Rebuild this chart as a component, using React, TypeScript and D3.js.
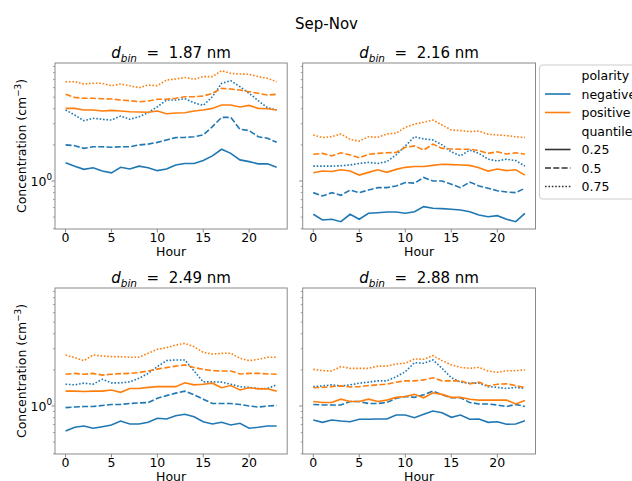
import React from 'react';
import * as d3 from 'd3';

const HOURS = [0, 1, 2, 3, 4, 5, 6, 7, 8, 9, 10, 11, 12, 13, 14, 15, 16, 17, 18, 19, 20, 21, 22, 23];
const X_TICKS = [0, 5, 10, 15, 20];
const Y_MAJOR = [1];
const Y_MINOR = [0.4, 0.5, 0.6, 0.7, 0.8, 0.9, 2, 3, 4, 5, 6, 7, 8, 9];
const SIZES = ['1.87', '2.16', '2.49', '2.88'];
const POLARITIES = ['negative', 'positive'];
const QUANTILES = ['0.25', '0.5', '0.75'];

// panel 1: 1.87 nm
const NEG25_A = [1.42, 1.33, 1.25, 1.29, 1.21, 1.17, 1.30, 1.26, 1.33, 1.29, 1.22, 1.26, 1.36, 1.40, 1.40, 1.48, 1.62, 1.84, 1.70, 1.50, 1.45, 1.39, 1.39, 1.30];
const NEG50_A = [2.00, 1.97, 1.87, 1.93, 1.93, 1.91, 1.93, 1.93, 2.00, 2.03, 2.10, 2.20, 2.30, 2.31, 2.34, 2.42, 2.84, 3.39, 3.39, 2.70, 2.63, 2.34, 2.27, 2.10];
const NEG75_A = [3.91, 3.55, 3.18, 3.33, 3.27, 3.22, 3.48, 3.27, 3.43, 3.71, 4.16, 4.73, 4.73, 4.85, 4.49, 4.27, 5.04, 6.52, 6.86, 6.11, 5.38, 4.67, 4.08, 3.91];
const POS25_A = [4.03, 4.03, 3.91, 3.91, 3.83, 3.88, 3.83, 3.78, 3.76, 3.74, 3.83, 3.64, 3.69, 3.71, 3.83, 3.91, 4.03, 4.30, 4.30, 4.14, 4.27, 4.03, 4.00, 3.91];
const POS50_A = [5.28, 4.98, 4.89, 4.89, 4.85, 4.82, 4.73, 4.67, 4.58, 4.64, 4.80, 4.80, 4.89, 5.04, 5.04, 5.11, 5.38, 5.92, 5.84, 5.73, 5.55, 5.38, 5.21, 5.28];
const POS75_A = [6.72, 6.72, 6.43, 6.52, 6.52, 6.22, 6.43, 6.22, 5.99, 6.31, 6.22, 6.95, 7.08, 7.29, 7.04, 7.41, 7.41, 8.30, 7.90, 7.80, 7.75, 7.41, 7.18, 6.72];

// panel 2: 2.16 nm
const NEG25_B = [0.528, 0.473, 0.480, 0.458, 0.528, 0.480, 0.538, 0.544, 0.551, 0.551, 0.538, 0.555, 0.611, 0.592, 0.588, 0.581, 0.573, 0.555, 0.520, 0.504, 0.514, 0.480, 0.458, 0.538];
const NEG50_B = [0.80, 0.75, 0.80, 0.76, 0.84, 0.80, 0.84, 0.88, 0.88, 0.91, 0.97, 0.96, 1.07, 1.00, 1.00, 0.94, 0.88, 0.98, 0.91, 0.87, 0.83, 0.81, 0.80, 0.87];
const NEG75_B = [1.33, 1.33, 1.33, 1.34, 1.36, 1.40, 1.43, 1.40, 1.45, 1.65, 1.96, 2.34, 2.24, 2.20, 2.00, 1.75, 1.62, 1.81, 1.70, 1.52, 1.47, 1.52, 1.48, 1.33];
const POS25_B = [1.17, 1.21, 1.20, 1.24, 1.21, 1.12, 1.18, 1.24, 1.18, 1.25, 1.30, 1.32, 1.32, 1.35, 1.38, 1.37, 1.36, 1.35, 1.29, 1.21, 1.26, 1.22, 1.24, 1.12];
const POS50_B = [1.67, 1.70, 1.62, 1.72, 1.65, 1.56, 1.67, 1.70, 1.72, 1.73, 1.91, 1.96, 1.81, 2.03, 1.87, 1.85, 1.84, 1.84, 1.79, 1.70, 1.75, 1.68, 1.72, 1.67];
const POS75_B = [2.42, 2.30, 2.34, 2.47, 2.22, 2.15, 2.34, 2.31, 2.47, 2.50, 2.80, 2.98, 3.09, 3.22, 2.93, 2.66, 2.63, 2.58, 2.61, 2.45, 2.42, 2.39, 2.34, 2.30];

// panel 3: 2.49 nm
const NEG25_C = [0.619, 0.665, 0.681, 0.652, 0.672, 0.695, 0.750, 0.708, 0.708, 0.731, 0.790, 0.779, 0.830, 0.853, 0.814, 0.740, 0.708, 0.731, 0.695, 0.718, 0.652, 0.665, 0.681, 0.681];
const NEG50_C = [0.97, 0.98, 0.99, 0.99, 1.01, 1.03, 1.03, 1.05, 1.06, 1.07, 1.16, 1.22, 1.28, 1.33, 1.24, 1.14, 1.05, 1.05, 1.05, 1.03, 1.00, 0.98, 1.00, 1.01];
const NEG75_C = [1.52, 1.50, 1.55, 1.52, 1.67, 1.56, 1.56, 1.59, 1.70, 1.87, 2.13, 2.39, 2.42, 2.42, 1.96, 1.59, 1.59, 1.58, 1.52, 1.45, 1.43, 1.40, 1.40, 1.50];
const POS25_C = [1.33, 1.33, 1.32, 1.33, 1.33, 1.36, 1.30, 1.40, 1.40, 1.43, 1.45, 1.45, 1.45, 1.56, 1.50, 1.52, 1.55, 1.42, 1.48, 1.36, 1.42, 1.39, 1.39, 1.33];
const POS50_C = [1.84, 1.87, 1.84, 1.87, 1.81, 1.84, 1.86, 1.87, 1.90, 1.96, 2.03, 2.09, 2.15, 2.20, 2.09, 2.02, 1.97, 1.96, 1.96, 1.85, 1.87, 1.87, 1.85, 1.84];
const POS75_C = [2.66, 2.53, 2.39, 2.66, 2.61, 2.58, 2.58, 2.55, 2.55, 2.75, 2.97, 3.06, 3.22, 3.33, 3.12, 2.80, 2.71, 2.75, 2.75, 2.50, 2.39, 2.45, 2.55, 2.55];

// panel 4: 2.88 nm
const NEG25_D = [0.764, 0.731, 0.764, 0.750, 0.740, 0.775, 0.775, 0.779, 0.779, 0.841, 0.841, 0.799, 0.853, 0.909, 0.879, 0.805, 0.841, 0.775, 0.779, 0.731, 0.740, 0.704, 0.708, 0.754];
const NEG50_D = [1.03, 1.02, 1.02, 1.02, 1.09, 1.09, 1.05, 1.05, 1.07, 1.16, 1.20, 1.18, 1.24, 1.33, 1.24, 1.17, 1.17, 1.07, 1.04, 1.04, 1.02, 0.99, 1.03, 0.99];
const NEG75_D = [1.45, 1.47, 1.50, 1.47, 1.50, 1.55, 1.58, 1.62, 1.62, 1.75, 1.93, 2.30, 2.27, 2.42, 2.06, 1.72, 1.58, 1.55, 1.55, 1.45, 1.43, 1.40, 1.43, 1.40];
const POS25_D = [1.09, 1.07, 1.07, 1.14, 1.09, 1.09, 1.14, 1.09, 1.12, 1.18, 1.20, 1.25, 1.17, 1.29, 1.25, 1.18, 1.18, 1.14, 1.12, 1.12, 1.12, 1.12, 1.04, 1.11];
const POS50_D = [1.42, 1.43, 1.45, 1.47, 1.44, 1.45, 1.48, 1.50, 1.52, 1.58, 1.62, 1.62, 1.65, 1.72, 1.62, 1.62, 1.62, 1.53, 1.58, 1.47, 1.52, 1.53, 1.48, 1.42];
const POS75_D = [2.02, 1.97, 1.96, 2.13, 2.06, 2.06, 2.06, 2.15, 2.15, 2.24, 2.27, 2.47, 2.45, 2.63, 2.39, 2.20, 2.10, 2.06, 2.10, 1.96, 1.91, 1.97, 1.97, 2.00];

const PANEL_DATA = [
  { neg: [NEG25_A, NEG50_A, NEG75_A], pos: [POS25_A, POS50_A, POS75_A] },
  { neg: [NEG25_B, NEG50_B, NEG75_B], pos: [POS25_B, POS50_B, POS75_B] },
  { neg: [NEG25_C, NEG50_C, NEG75_C], pos: [POS25_C, POS50_C, POS75_C] },
  { neg: [NEG25_D, NEG50_D, NEG75_D], pos: [POS25_D, POS50_D, POS75_D] },
];

const W = 632;
const H = 481;
const FONT = '"DejaVu Sans", sans-serif';
const BLUE = '#1f77b4';
const ORANGE = '#ff7f0e';
const SPINE = '#8a8a8a';
const LW = 1.6;
const DASHES = ['', '6,2.3', '1.6,1.8'];

const LAYOUT = [
  { x0: 55, x1: 287.2, y0: 63, y1: 229, left: true },
  { x0: 302.7, x1: 535.5, y0: 63, y1: 229, left: false },
  { x0: 55, x1: 287.2, y0: 288, y1: 454, left: true },
  { x0: 302.7, x1: 535.5, y0: 288, y1: 454, left: false },
];

const Y_DOMAIN = [0.398, 9.63];
const X_DOMAIN = [-1.15, 24.15];

function Panel({ idx }: { idx: number }) {
  const L = LAYOUT[idx];
  const data = PANEL_DATA[idx];
  const xs = d3.scaleLinear().domain(X_DOMAIN).range([L.x0, L.x1]);
  const ys = d3.scaleLog().domain(Y_DOMAIN).range([L.y1, L.y0]);
  const line = d3
    .line<number>()
    .x((_, i) => xs(HOURS[i]))
    .y((d) => ys(d));
  const cx = (L.x0 + L.x1) / 2;
  const cy = (L.y0 + L.y1) / 2;
  const minors = Y_MINOR.filter((v) => v >= Y_DOMAIN[0] && v <= Y_DOMAIN[1]);
  return (
    <g>
      <defs>
        <clipPath id={`clip${idx}`}>
          <rect x={L.x0} y={L.y0} width={L.x1 - L.x0} height={L.y1 - L.y0} />
        </clipPath>
      </defs>
      <g clipPath={`url(#clip${idx})`}>
        {data.neg.map((s, q) => (
          <path key={`n${q}`} d={line(s) || ''} fill="none" stroke={BLUE} strokeWidth={LW} strokeDasharray={DASHES[q]} />
        ))}
        {data.pos.map((s, q) => (
          <path key={`p${q}`} d={line(s) || ''} fill="none" stroke={ORANGE} strokeWidth={LW} strokeDasharray={DASHES[q]} />
        ))}
      </g>
      <rect x={L.x0} y={L.y0} width={L.x1 - L.x0} height={L.y1 - L.y0} fill="none" stroke={SPINE} strokeWidth={1} />
      {X_TICKS.map((t) => (
        <g key={t}>
          <line x1={xs(t)} x2={xs(t)} y1={L.y1} y2={L.y1 + 3.5} stroke={SPINE} strokeWidth={1} />
          <text x={xs(t)} y={L.y1 + 12.5} textAnchor="middle" fontSize={12.5} fontFamily={FONT} fill="#000">
            {t}
          </text>
        </g>
      ))}
      <text x={cx} y={L.y1 + 27} textAnchor="middle" fontSize={12.5} fontFamily={FONT} fill="#000">
        Hour
      </text>
      {Y_MAJOR.map((t) => (
        <g key={t}>
          <line x1={L.x0 - 3.5} x2={L.x0} y1={ys(t)} y2={ys(t)} stroke={SPINE} strokeWidth={1} />
          {L.left && (
            <text x={L.x0 - 3} y={ys(t) + 4.5} textAnchor="end" fontSize={12.5} fontFamily={FONT} fill="#000">
              10
              <tspan fontSize={8.8} dy={-5.5}>0</tspan>
            </text>
          )}
        </g>
      ))}
      {minors.map((t) => (
        <line key={t} x1={L.x0 - 2} x2={L.x0} y1={ys(t)} y2={ys(t)} stroke={SPINE} strokeWidth={0.8} />
      ))}
      {L.left && (
        <text
          transform={`translate(${21.5},${cy}) rotate(-90)`}
          textAnchor="middle"
          y={4.5}
          fontSize={12.5}
          fontFamily={FONT}
          fill="#000"
        >
          Concentration (cm
          <tspan fontSize={8.8} dy={-5}>−3</tspan>
          <tspan dy={5}>)</tspan>
        </text>
      )}
      <text x={cx} y={L.y0 - 5} textAnchor="middle" fontSize={15} fontFamily={FONT} fill="#000" style={{ whiteSpace: 'pre' }}>
        <tspan fontStyle="italic">d</tspan>
        <tspan fontStyle="italic" fontSize={10.5} dy={3.5}>bin</tspan>
        <tspan dy={-3.5}>{`  =  ${SIZES[idx]} nm`}</tspan>
      </text>
    </g>
  );
}

function Legend() {
  const x0 = 539.5;
  const y0 = 65;
  const rowY = (i: number) => 75.5 + i * 18.5;
  const entries: { label: string; color?: string; dash?: string }[] = [
    { label: 'polarity' },
    { label: POLARITIES[0], color: BLUE, dash: '' },
    { label: POLARITIES[1], color: ORANGE, dash: '' },
    { label: 'quantile' },
    { label: QUANTILES[0], color: '#333', dash: DASHES[0] },
    { label: QUANTILES[1], color: '#333', dash: DASHES[1] },
    { label: QUANTILES[2], color: '#333', dash: DASHES[2] },
  ];
  return (
    <g>
      <rect x={x0} y={y0} width={110} height={134} rx={3} fill="#fff" fillOpacity={0.8} stroke="#cccccc" strokeWidth={1} />
      {entries.map((e, i) => (
        <g key={i}>
          {e.color && (
            <line x1={545} x2={570.5} y1={rowY(i)} y2={rowY(i)} stroke={e.color} strokeWidth={LW} strokeDasharray={e.dash} />
          )}
          <text x={581.5} y={rowY(i) + 4.5} fontSize={12.5} fontFamily={FONT} fill="#000">
            {e.label}
          </text>
        </g>
      ))}
    </g>
  );
}

export default function App() {
  return (
    <div style={{ position: 'absolute', left: 0, top: 0 }}>
      <svg width={W} height={H} viewBox={`0 0 ${W} ${H}`} style={{ display: 'block', background: '#fff' }}>
        <rect x={0} y={0} width={W} height={H} fill="#fff" />
        <text x={326.5} y={28.5} textAnchor="middle" fontSize={15} fontFamily={FONT} fill="#000">
          Sep-Nov
        </text>
        {LAYOUT.map((_, i) => (
          <Panel key={i} idx={i} />
        ))}
        <Legend />
      </svg>
    </div>
  );
}
